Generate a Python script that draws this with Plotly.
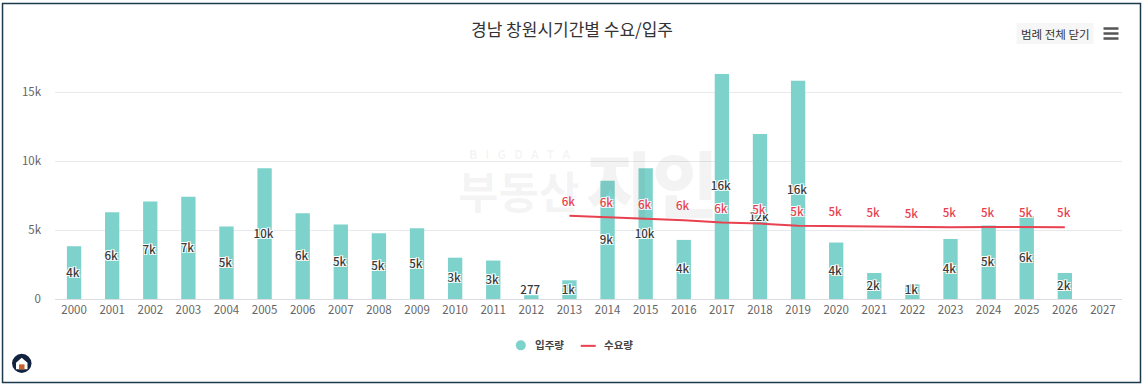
import plotly.graph_objects as go

years = list(range(2000, 2028))
supply = [3830, 6300, 7080, 7420, 5260, 9500, 6230, 5400, 4770, 5140, 3000, 2790, 277, 1360,
          8580, 9500, 4290, 16340, 11970, 15850, 4100, 1890, 1070, 4360, 5330, 6010, 1890, None]
supply_labels = ["4k", "6k", "7k", "7k", "5k", "10k", "6k", "5k", "5k", "5k", "3k", "3k", "277", "1k",
                 "9k", "10k", "4k", "16k", "12k", "16k", "4k", "2k", "1k", "4k", "5k", "6k", "2k", ""]
demand = [None] * 13 + [6035, 5940, 5820, 5720, 5550, 5480, 5310, 5280, 5235, 5190, 5210, 5235, 5210, 5210, None]
demand_labels = [""] * 13 + ["6k", "6k", "6k", "6k", "6k", "5k", "5k", "5k", "5k", "5k", "5k", "5k", "5k", "5k", ""]

TEAL = "#7dd3cc"
RED = "#e8414f"
FONT = "Noto Sans CJK KR"
OUTLINE = "-1px -1px 0 #fff,1px -1px 0 #fff,-1px 1px 0 #fff,1px 1px 0 #fff"

W, H = 1144, 386
L, R, T, B = 55, 1122.5, 16, 298.7
def px(x): return (x - L) / (R - L)
def py(y): return (B - y) / (B - T)

fig = go.Figure()
fig.add_bar(x=years, y=supply, width=0.376, marker=dict(color=TEAL, line_width=0), hoverinfo="skip", name="입주량", showlegend=False)
fig.add_scatter(x=[y - 0.03 for y in years],
                y=[None if v is None else max(v / 2 - 80, 600) for v in supply],
                text=supply_labels, mode="text", showlegend=False, hoverinfo="skip",
                textfont=dict(family=FONT, size=11.5, color="#3a3a3a", shadow=OUTLINE, weight=500))
fig.add_scatter(x=years, y=demand, mode="lines", line=dict(color=RED, width=2), name="수요량", showlegend=False, hoverinfo="skip")
fig.add_scatter(x=[y - 0.03 for y in years],
                y=[None if v is None else v + 920 for v in demand],
                text=demand_labels, mode="text", showlegend=False, hoverinfo="skip",
                textfont=dict(family=FONT, size=11.5, color=RED, shadow=OUTLINE, weight=500))

P = dict(xref="paper", yref="paper")
shapes = [
    dict(type="rect", **P, x0=px(2.5), x1=px(1141), y0=py(382), y1=py(3.5),
         line=dict(color="#1c3a4e", width=1.5), layer="below"),
    dict(type="rect", **P, x0=px(1017), x1=px(1094), y0=py(44), y1=py(23),
         fillcolor="#f6f6f6", line_width=0, layer="below"),
    dict(type="circle", **P, x0=px(516), x1=px(526), y0=py(350), y1=py(340),
         fillcolor=TEAL, line_width=0),
    dict(type="line", **P, x0=px(581), x1=px(596), y0=py(345.5), y1=py(345.5),
         line=dict(color=RED, width=2)),
    dict(type="circle", **P, x0=px(12), x1=px(31.5), y0=py(372.5), y1=py(353.5),
         fillcolor="#13233f", line_width=0),
    dict(type="path", **P,
         path=f"M {px(16)} {py(362.5)} L {px(21.7)} {py(357.5)} L {px(27.5)} {py(362.5)} L {px(27.5)} {py(369)} L {px(16)} {py(369)} Z",
         fillcolor="#ffffff", line_width=0),
    dict(type="rect", **P, x0=px(19), x1=px(24.5), y0=py(369), y1=py(364),
         fillcolor="#c9602c", line_width=0),
]
for y in (28.5, 33.5, 38.5):
    shapes.append(dict(type="line", **P, x0=px(1104), x1=px(1119), y0=py(y), y1=py(y),
                       line=dict(color="#555", width=2.5)))

def note(text, x, y, size, color, **kw):
    return dict(text=text, **P, x=px(x), y=py(y), showarrow=False,
                xanchor=kw.pop("xanchor", "center"), yanchor="middle",
                font=dict(family=FONT, size=size, color=color, **kw))

WM = "rgba(90,90,90,0.07)"
annotations = [
    note("범례 전체 닫기", 1055.5, 33.5, 11.5, "#333"),
    note("입주량", 533, 344.5, 10.5, "#444", weight=700, xanchor="left"),
    note("수요량", 602, 344.5, 10.5, "#444", weight=700, xanchor="left"),
    note("B\u00a0\u00a0\u00a0I\u00a0\u00a0\u00a0G\u00a0\u00a0\u00a0D\u00a0\u00a0\u00a0A\u00a0\u00a0\u00a0T\u00a0\u00a0\u00a0A", 520, 153, 12, WM, weight=700),
    note("부동산", 519, 190, 44, WM, weight=700),
    note("지인", 652, 180, 72, WM, weight=900),
]

fig.update_layout(
    width=W, height=H, autosize=False, plot_bgcolor="white", paper_bgcolor="white",
    margin=dict(l=L, r=W - R, t=T, b=H - B),
    title=dict(text="경남 창원시기간별 수요/입주", x=572 / W, xanchor="center", y=1 - 30 / H, yanchor="middle",
               font=dict(family=FONT, size=17, color="#333")),
    xaxis=dict(range=[1999.5, 2027.5], tickmode="array", tickvals=years, ticktext=[str(y) for y in years],
               showgrid=False, showline=True, linecolor="#dcdde2", linewidth=1, ticks="", zeroline=False,
               tickfont=dict(family=FONT, size=11.5, color="#666")),
    yaxis=dict(range=[0, 20545], tickmode="array", tickvals=[0, 5000, 10000, 15000],
               ticktext=["0", "5k", "10k", "15k"], gridcolor="#e8e9ec", gridwidth=1, zeroline=False,
               ticks="", ticklabelstandoff=13, tickfont=dict(family=FONT, size=11.5, color="#666")),
    showlegend=False, shapes=shapes, annotations=annotations,
)
fig.write_html("out.html", config=dict(displayModeBar=False),
               post_script="document.body.style.margin='0';document.documentElement.style.overflow='hidden';")
